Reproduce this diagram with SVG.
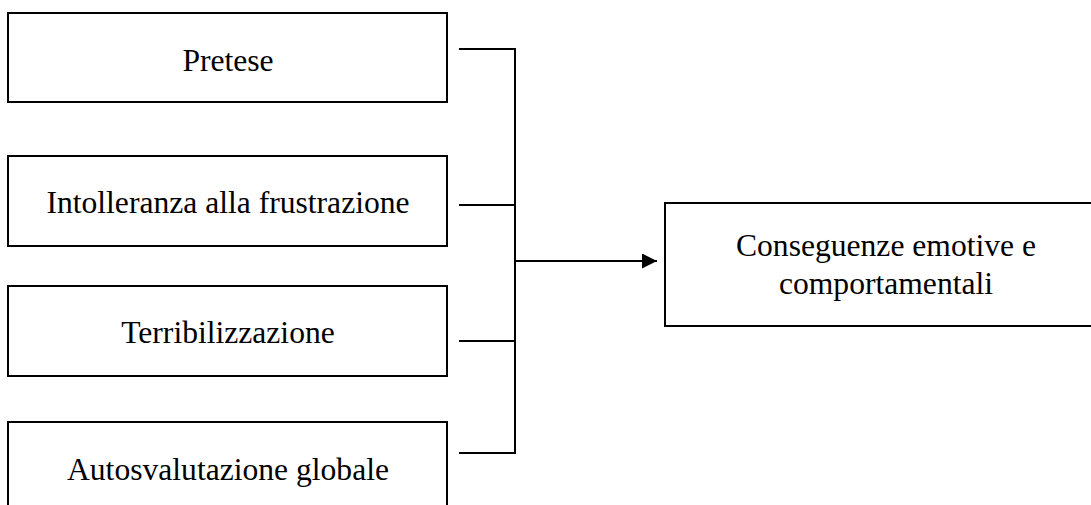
<svg xmlns="http://www.w3.org/2000/svg" width="1091" height="505" viewBox="0 0 1091 505">
  <style>
    .box { fill: #ffffff; stroke: #000000; stroke-width: 2; }
    .lbl { font-family: "Liberation Serif", "Times New Roman", serif; font-size: 31.6px; fill: #000000; text-anchor: middle; }
    .wire { fill: none; stroke: #000000; stroke-width: 2; }
  </style>
  <defs>
    <marker id="arrowhead" viewBox="0 0 10 10" refX="10" refY="5" markerWidth="7.5" markerHeight="7.5" markerUnits="strokeWidth" orient="auto">
      <path d="M0,0 L10,5 L0,10 Z" fill="#000000"/>
    </marker>
  </defs>
  <rect width="1091" height="505" fill="#ffffff"/>

  <!-- source boxes, stacked on the left -->
  <g id="pretese">
    <rect class="box" x="8" y="13" width="439" height="89"/>
    <text class="lbl" x="228" y="71">Pretese</text>
  </g>
  <g id="intolleranza">
    <rect class="box" x="8" y="156" width="439" height="90"/>
    <text class="lbl" x="228" y="213">Intolleranza alla frustrazione</text>
  </g>
  <g id="terribilizzazione">
    <rect class="box" x="8" y="286" width="439" height="90"/>
    <text class="lbl" x="228" y="343">Terribilizzazione</text>
  </g>
  <g id="autosvalutazione">
    <rect class="box" x="8" y="422" width="439" height="100"/>
    <text class="lbl" x="228" y="480">Autosvalutazione globale</text>
  </g>

  <!-- target box on the right -->
  <g id="conseguenze">
    <rect class="box" x="665" y="203" width="442" height="123"/>
    <text class="lbl" x="886" y="256">Conseguenze emotive e</text>
    <text class="lbl" x="886" y="294">comportamentali</text>
  </g>

  <!-- bus joining the four sources, then one arrow to the target -->
  <g id="connectors">
    <path class="wire" d="M459,49 H515 V453 H459"/>
    <path class="wire" d="M459,205 H515"/>
    <path class="wire" d="M459,341 H515"/>
    <path class="wire" d="M515,261 H657" marker-end="url(#arrowhead)"/>
  </g>
</svg>
